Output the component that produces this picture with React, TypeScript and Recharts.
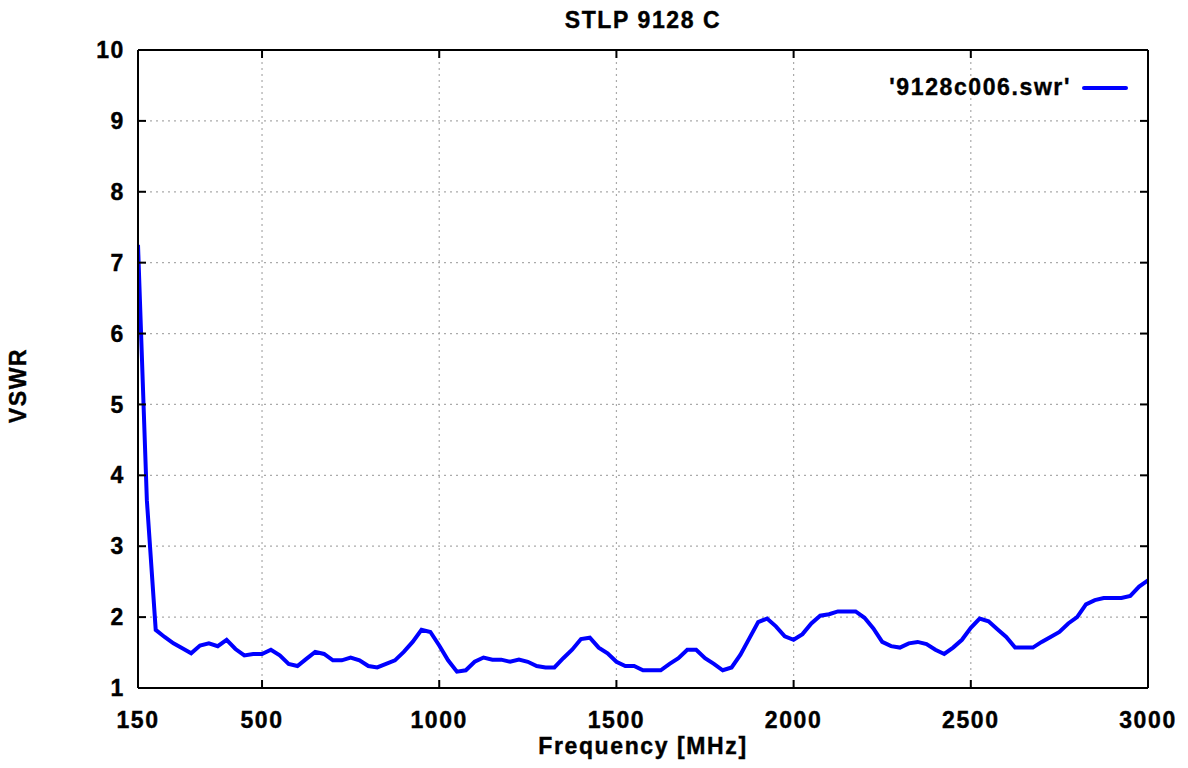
import React from 'react';
import { LineChart, Line, XAxis, YAxis, CartesianGrid } from 'recharts';

const frequencies: number[] = [
  150, 175, 200, 225, 250, 275, 300, 325, 350, 375, 400, 425, 450, 475, 500,
  525, 550, 575, 600, 625, 650, 675, 700, 725, 750, 775, 800, 825, 850, 875,
  900, 925, 950, 975, 1000, 1025, 1050, 1075, 1100, 1125, 1150, 1175, 1200, 1225,
  1250, 1275, 1300, 1325, 1350, 1375, 1400, 1425, 1450, 1475, 1500, 1525, 1550,
  1575, 1600, 1625, 1650, 1675, 1700, 1725, 1750, 1775, 1800, 1825, 1850, 1875,
  1900, 1925, 1950, 1975, 2000, 2025, 2050, 2075, 2100, 2125, 2150, 2175, 2200,
  2225, 2250, 2275, 2300, 2325, 2350, 2375, 2400, 2425, 2450, 2475, 2500, 2525,
  2550, 2575, 2600, 2625, 2650, 2675, 2700, 2725, 2750, 2775, 2800, 2825, 2850,
  2875, 2900, 2925, 2950, 2975, 3000,
];

const vswr: number[] = [
  7.25, 3.65, 1.82, 1.72, 1.63, 1.56, 1.49, 1.6, 1.63, 1.59, 1.68, 1.55, 1.46, 1.48, 1.48,
  1.54, 1.46, 1.34, 1.31, 1.41, 1.51, 1.48, 1.39, 1.39, 1.43, 1.39, 1.31, 1.29, 1.34, 1.39,
  1.51, 1.65, 1.82, 1.79, 1.6, 1.39, 1.23, 1.25, 1.37, 1.43, 1.4, 1.4, 1.37, 1.4,
  1.37, 1.31, 1.29, 1.29, 1.42, 1.54, 1.69, 1.71, 1.57, 1.49, 1.37, 1.31, 1.31,
  1.25, 1.25, 1.25, 1.34, 1.42, 1.54, 1.54, 1.42, 1.34, 1.25, 1.29, 1.47, 1.7,
  1.93, 1.98, 1.87, 1.73, 1.68, 1.76, 1.91, 2.02, 2.04, 2.08, 2.08, 2.08, 1.99,
  1.84, 1.65, 1.59, 1.57, 1.63, 1.65, 1.62, 1.54, 1.48, 1.57, 1.68, 1.85, 1.98,
  1.94, 1.83, 1.72, 1.57, 1.57, 1.57, 1.65, 1.72, 1.79, 1.91, 2.0, 2.18, 2.24,
  2.27, 2.27, 2.27, 2.3, 2.43, 2.52,
];

const xTicks: number[] = [150, 500, 1000, 1500, 2000, 2500, 3000];
const yTicks: number[] = [1, 2, 3, 4, 5, 6, 7, 8, 9, 10];

const seriesName = "'9128c006.swr'";
const chartTitle = 'STLP 9128 C';
const xTitle = 'Frequency [MHz]';
const yTitle = 'VSWR';

const data = frequencies.map((f, i) => ({ f, v: vswr[i] }));

const FONT = '"Liberation Sans", Arial, Helvetica, sans-serif';
const textStyle: React.CSSProperties = {
  fontFamily: FONT,
  fontWeight: 'bold',
  fontSize: 23,
  letterSpacing: 1.6,
  color: '#000',
  lineHeight: '23px',
  whiteSpace: 'nowrap',
  position: 'absolute',
  WebkitTextStroke: '0.4px #000',
};

const tickStyle = {
  fill: '#000',
  stroke: '#000',
  strokeWidth: 0.4,
  fontFamily: FONT,
  fontWeight: 'bold',
  fontSize: 23,
  letterSpacing: 1.6,
};

const EmptyTick = () => <g />;

export default function App() {
  return (
    <div style={{ position: 'absolute', left: 0, top: 0, width: 1188, height: 768, background: '#fff' }}>
      <LineChart
        width={1188}
        height={768}
        data={data}
        margin={{ top: 50, right: 40, left: 0, bottom: 0 }}
      >
        <CartesianGrid
          xAxisId="main"
          yAxisId="main"
          stroke="#aaaaaa"
          strokeWidth={1.2}
          strokeDasharray="2 4"
          verticalValues={xTicks}
          horizontalValues={yTicks}
        />
        <XAxis
          xAxisId="main"
          dataKey="f"
          type="number"
          domain={[150, 3000]}
          ticks={xTicks}
          allowDataOverflow
          height={80}
          axisLine={{ stroke: '#000', strokeWidth: 2 }}
          tickLine={{ stroke: '#000', strokeWidth: 2 }}
          tickSize={-8}
          tickMargin={32}
          tick={tickStyle}
          interval={0}
        />
        <XAxis
          xAxisId="top"
          orientation="top"
          mirror
          dataKey="f"
          type="number"
          domain={[150, 3000]}
          ticks={xTicks}
          allowDataOverflow
          height={30}
          axisLine={{ stroke: '#000', strokeWidth: 2 }}
          tickLine={{ stroke: '#000', strokeWidth: 2 }}
          tickSize={8}
          tick={<EmptyTick />}
          interval={0}
        />
        <YAxis
          yAxisId="main"
          type="number"
          domain={[1, 10]}
          ticks={yTicks}
          allowDataOverflow
          width={138}
          axisLine={{ stroke: '#000', strokeWidth: 2 }}
          tickLine={{ stroke: '#000', strokeWidth: 2 }}
          tickSize={-8}
          tickMargin={21}
          tick={tickStyle}
          interval={0}
        />
        <YAxis
          yAxisId="right"
          orientation="right"
          mirror
          type="number"
          domain={[1, 10]}
          ticks={yTicks}
          allowDataOverflow
          width={30}
          axisLine={{ stroke: '#000', strokeWidth: 2 }}
          tickLine={{ stroke: '#000', strokeWidth: 2 }}
          tickSize={8}
          tick={<EmptyTick />}
          interval={0}
        />
        <Line
          xAxisId="main"
          yAxisId="main"
          type="linear"
          dataKey="v"
          name={seriesName}
          stroke="#0000ff"
          strokeWidth={4}
          dot={false}
          activeDot={false}
          isAnimationActive={false}
          strokeLinejoin="miter"
        />
      </LineChart>
      <div style={{ ...textStyle, left: 443, width: 400, textAlign: 'center', top: 9 }}>{chartTitle}</div>
      <div style={{ ...textStyle, left: 443, width: 400, textAlign: 'center', top: 735 }}>{xTitle}</div>
      <div
        style={{
          ...textStyle,
          left: 17.5 - 100,
          top: 385.5 - 11.5,
          width: 200,
          height: 23,
          textAlign: 'center',
          transform: 'rotate(-90deg)',
        }}
      >
        {yTitle}
      </div>
      <div style={{ ...textStyle, right: 1188 - 1071, top: 76 }}>{seriesName}</div>
      <div
        style={{
          position: 'absolute',
          left: 1082,
          top: 86,
          width: 46,
          height: 4,
          background: '#0000ff',
          borderRadius: 2,
        }}
      />
    </div>
  );
}
